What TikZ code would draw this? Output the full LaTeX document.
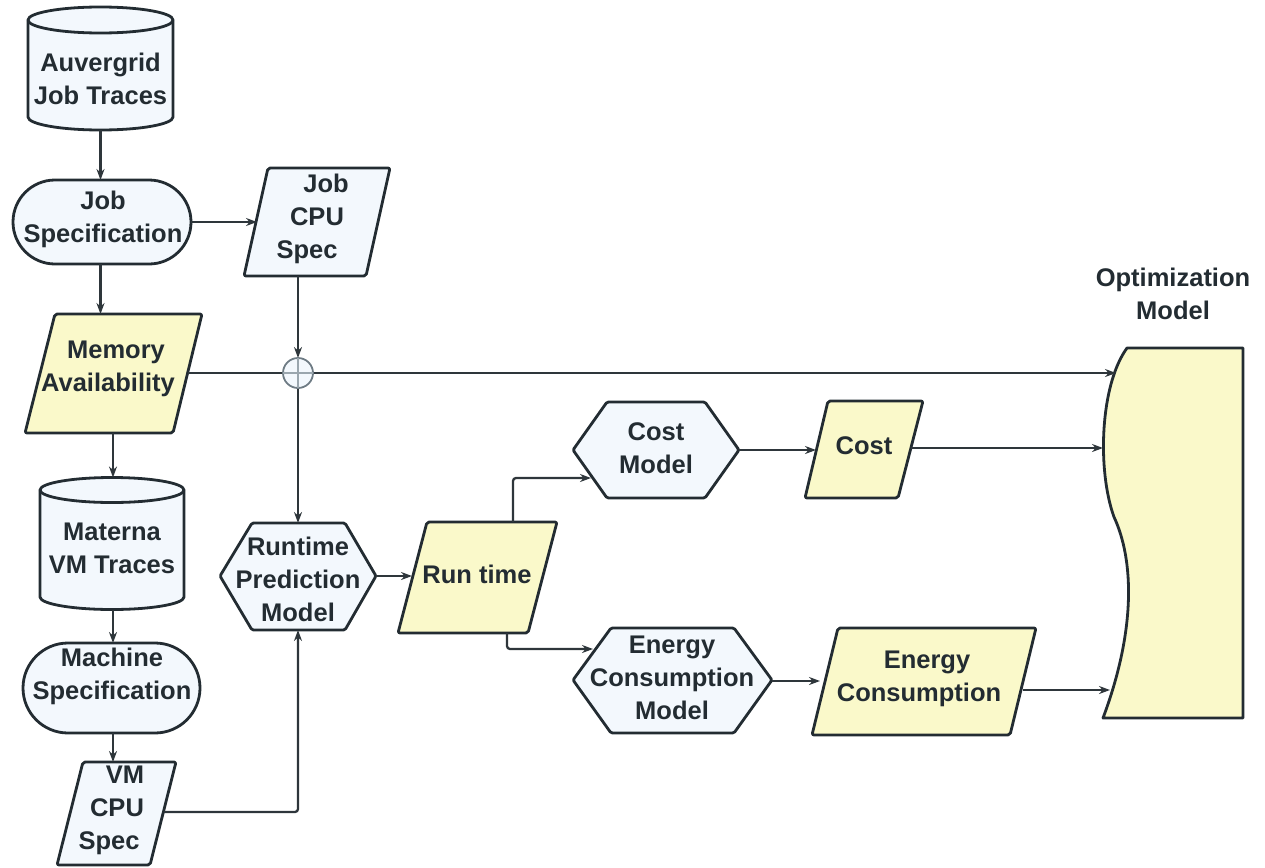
\documentclass[tikz,border=0pt]{standalone}
\usepackage{fontspec}
\setmainfont{Liberation Sans}
\usetikzlibrary{arrows.meta,calc}
\definecolor{ink}{HTML}{232C32}
\definecolor{wire}{HTML}{2E363B}
\definecolor{paleblue}{HTML}{F3F8FD}
\definecolor{paleyellow}{HTML}{FAF9CA}
\definecolor{ring}{HTML}{6E7B84}
\definecolor{ringcross}{HTML}{9AA6AE}

\begin{document}
\begin{tikzpicture}[x=1pt,y=-1pt,
  outline/.style={draw=ink, line width=2.8pt, line join=round},
  bluebox/.style={outline, fill=paleblue},
  yellowbox/.style={outline, fill=paleyellow},
  txt/.style={font=\fontsize{25.5}{33}\selectfont\bfseries, text=ink, align=center, inner sep=0pt},
  flow/.style={draw=wire, line width=2.3pt, -{Stealth[length=11pt,width=8pt]}},
  wireline/.style={draw=wire, line width=2.3pt}]

\useasboundingbox (0,0) rectangle (1265,867);

% ---- Auvergrid cylinder
\path[bluebox] (28,20) -- (28,117) .. controls (28,124.2) and (60.5,130) .. (100.5,130)
  .. controls (140.5,130) and (173,124.2) .. (173,117) -- (173,20)
  .. controls (173,12.8) and (140.5,7) .. (100.5,7)
  .. controls (60.5,7) and (28,12.8) .. (28,20) -- cycle;
\draw[outline] (28,20) .. controls (28,27.2) and (60.5,33) .. (100.5,33)
  .. controls (140.5,33) and (173,27.2) .. (173,20);
\node[txt] (auver) at (100.5,79) {Auvergrid\\Job Traces};
\coordinate (auverS) at (100.5,130);

% ---- Job Specification
\path[bluebox, rounded corners=42pt] (13,180) rectangle (191,264);
\node[txt] (jobspec) at (103,219) {Job\\Specification};
\coordinate (jobspecN) at (100.5,180);
\coordinate (jobspecE) at (191,222);
\coordinate (jobspecS) at (100.5,264);

% ---- Job CPU Spec
\path[bluebox, rounded corners=2pt] (268,168) -- (390,168) -- (366,276) -- (244,276) -- cycle;
\node[txt] (jobcpu) at (317,219) {\hspace*{18pt}Job\\CPU\\Spec\hspace*{20pt}};
\coordinate (jobcpuW) at (257,222);
\coordinate (jobcpuS) at (298,276);

% ---- Memory Availability
\path[yellowbox, rounded corners=2pt] (55,314) -- (202,314) -- (173,433) -- (25,433) -- cycle;
\node[txt] (memory) at (112,369) {\hspace*{8pt}Memory\\Availability\hspace*{8pt}};
\coordinate (memoryN) at (100.5,314);
\coordinate (memoryE) at (188,373);
\coordinate (memoryS) at (113,433);

% ---- Materna cylinder
\path[bluebox] (40,490) -- (40,597) .. controls (40,603.9) and (72.3,609.5) .. (112,609.5)
  .. controls (151.7,609.5) and (184,603.9) .. (184,597) -- (184,490)
  .. controls (184,483.1) and (151.7,477.5) .. (112,477.5)
  .. controls (72.3,477.5) and (40,483.1) .. (40,490) -- cycle;
\draw[outline] (40,490) .. controls (40,496.9) and (72.3,502.5) .. (112,502.5)
  .. controls (151.7,502.5) and (184,496.9) .. (184,490);
\node[txt] (materna) at (112,548) {Materna\\VM Traces};
\coordinate (maternaN) at (113,477.5);
\coordinate (maternaS) at (113,609.5);

% ---- Machine Specification
\path[bluebox, rounded corners=45pt] (23,643) rectangle (200,733);
\node[txt] (machine) at (112,676) {Machine\\Specification};
\coordinate (machineN) at (113,643);
\coordinate (machineS) at (113,733);

% ---- VM CPU Spec
\path[bluebox, rounded corners=2pt] (83,762) -- (176,762) -- (150,865) -- (57,865) -- cycle;
\node[txt] (vmcpu) at (117,810) {\hspace*{16pt}VM\\CPU\\Spec\hspace*{16pt}};
\coordinate (vmcpuN) at (113,762);
\coordinate (vmcpuE) at (164,812);

% ---- junction
\coordinate (join) at (298,373);
\coordinate (joinN) at (298,358);
\coordinate (joinS) at (298,388);
\coordinate (joinW) at (283,373);
\coordinate (joinE) at (313,373);

% ---- Runtime Prediction Model
\path[bluebox, rounded corners=1.5pt] (252,523) -- (345,523) -- (376,576) -- (345,630) -- (252,630) -- (220,576) -- cycle;
\node[txt] (runtime) at (298,579) {Runtime\\Prediction\\Model};
\coordinate (runtimeN) at (298,523);
\coordinate (runtimeE) at (376,576);
\coordinate (runtimeS) at (298,630);

% ---- Run time
\path[yellowbox, rounded corners=2pt] (427,522) -- (557,522) -- (528,633) -- (398,633) -- cycle;
\node[txt] (runtm) at (477,574) {Run time};
\coordinate (runtmW) at (412,576);
\coordinate (runtmN) at (513,522);
\coordinate (runtmS) at (507,633);

% ---- Cost Model
\path[bluebox, rounded corners=1.5pt] (607,402) -- (705,402) -- (739,450) -- (705,498) -- (607,498) -- (573,450) -- cycle;
\node[txt] (costmodel) at (656,448) {Cost\\Model};
\coordinate (costmodelW) at (591,478);
\coordinate (costmodelE) at (739,450);

% ---- Cost
\path[yellowbox, rounded corners=2pt] (828,401) -- (923,401) -- (898,498) -- (805,498) -- cycle;
\node[txt] (cost) at (864,446) {Cost};
\coordinate (costW) at (816,450);
\coordinate (costE) at (911,448);

% ---- Energy Consumption Model
\path[bluebox, rounded corners=1.5pt] (611,628) -- (734,628) -- (772,680) -- (734,733) -- (611,733) -- (573,680) -- cycle;
\node[txt] (energymodel) at (672,678) {Energy\\Consumption\\Model};
\coordinate (energymodelW) at (593,649);
\coordinate (energymodelE) at (772,681);

% ---- Energy Consumption
\path[yellowbox, rounded corners=2pt] (838,628) -- (1036,628) -- (1010,735) -- (812,735) -- cycle;
\node[txt] (energy) at (923,679) {\hspace*{8pt}Energy\\Consumption\hspace*{8pt}};
\coordinate (energyW) at (820,681);
\coordinate (energyE) at (1023,690);

% ---- Optimization Model
\path[yellowbox] (1127,348) -- (1243,348) -- (1243,718) -- (1103,718)
  .. controls (1136,630) and (1134,560) .. (1114,517)
  .. controls (1097,470) and (1100,385) .. (1127,348) -- cycle;
\node[txt] (optim) at (1173,294) {Optimization\\Model};
\coordinate (optimA) at (1116,373);
\coordinate (optimB) at (1103,448);
\coordinate (optimC) at (1110,690);

% ---- connectors
\draw[flow] (auverS) -- (jobspecN);
\draw[flow] (jobspecE) -- (jobcpuW);
\draw[flow] (jobspecS) -- (memoryN);
\draw[flow] (jobcpuS) -- (joinN);
\draw[wireline] (memoryE) -- (joinW);
\draw[flow] (joinE) -- (optimA);
\draw[flow] (joinS) -- (runtimeN);
\draw[flow] (memoryS) -- (maternaN);
\draw[flow] (maternaS) -- (machineN);
\draw[flow] (machineS) -- (vmcpuN);
\draw[flow, rounded corners=3pt] (vmcpuE) -| (runtimeS);
\draw[flow] (runtimeE) -- (runtmW);
\draw[flow, rounded corners=3pt] (runtmN) |- (costmodelW);
\draw[flow, rounded corners=3pt] (runtmS) |- (energymodelW);
\draw[flow] (costmodelE) -- (costW);
\draw[flow] (costE) -- (optimB);
\draw[flow] (energymodelE) -- (energyW);
\draw[flow] (energyE) -- (optimC);

% junction circle with its cross
\draw[ring, line width=1.8pt, fill=paleblue] (join) circle[radius=15pt];
\draw[ringcross, line width=1.2pt] ($(join)+(-15,0)$) -- ($(join)+(15,0)$);
\draw[ringcross, line width=1.2pt] ($(join)+(0,-15)$) -- ($(join)+(0,15)$);
\end{tikzpicture}
\end{document}
